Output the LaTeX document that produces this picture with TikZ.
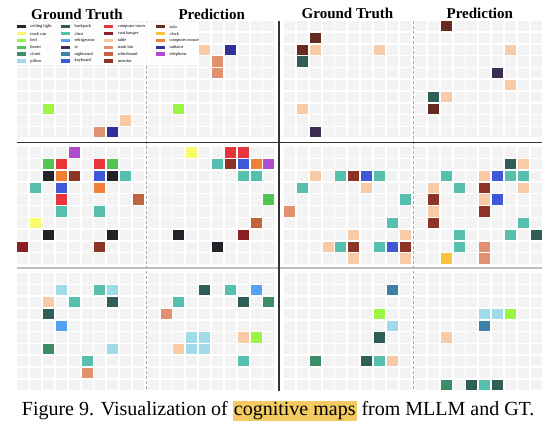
\documentclass[tikz,border=0pt]{standalone}
\usepackage{fontspec}
\setmainfont{Liberation Serif}
\usetikzlibrary{positioning}

\definecolor{cellbg}{HTML}{F3F3F3}
\definecolor{ceilinglight}{HTML}{222228}
\definecolor{trashcan}{HTML}{FAFA6E}
\definecolor{bed}{HTML}{9CF542}
\definecolor{heater}{HTML}{52C452}
\definecolor{closet}{HTML}{3D8C68}
\definecolor{pillow}{HTML}{9FDBE8}
\definecolor{backpack}{HTML}{2E5E56}
\definecolor{chair}{HTML}{56BFAE}
\definecolor{fridge}{HTML}{55A2F2}
\definecolor{tv}{HTML}{3B2D52}
\definecolor{nightstand}{HTML}{3F80A8}
\definecolor{keyboard}{HTML}{3F58D8}
\definecolor{comptower}{HTML}{E8343A}
\definecolor{coathanger}{HTML}{8C1F25}
\definecolor{tablec}{HTML}{F8CBA6}
\definecolor{trashbin}{HTML}{E09270}
\definecolor{whiteboard}{HTML}{C0643E}
\definecolor{monitor}{HTML}{8C3526}
\definecolor{sofa}{HTML}{652A20}
\definecolor{clock}{HTML}{F8C23C}
\definecolor{mouse}{HTML}{EE8038}
\definecolor{radiator}{HTML}{30309A}
\definecolor{telephone}{HTML}{B04CD0}
\definecolor{hlyellow}{HTML}{F4CB62}

\newcommand{\cogmap}[3]{%
  \foreach \c in {0,...,9}
    \foreach \r in {0,...,9}
      \fill[bgcell] ({#1+12.85*\c},{#2+11.8*\r}) rectangle ++(11,10.3);
  \foreach \c/\r/\k in {#3}
    \fill[fill=\k] ({#1+12.85*\c},{#2+11.8*\r}) rectangle ++(11,10.3);
}

\begin{document}
\begin{tikzpicture}[
      x=1pt,y=-1pt,
      bgcell/.style={fill=cellbg},
      title/.style={font=\fontsize{15}{18}\selectfont\bfseries, anchor=base, inner sep=0},
      swatch/.style={inner sep=0, minimum width=9.3pt, minimum height=3.4pt},
      lbl/.style={font=\fontsize{4.4}{5}\selectfont, inner sep=0, anchor=west},
      solidsep/.style={draw=black!80, line width=1.1pt},
      graysep/.style={draw=black!25, line width=1.8pt},
      halfsep/.style={draw=black!35, line width=0.8pt, dash pattern=on 3pt off 2pt}
      ]

      \fill[white] (0,0) rectangle (551,430);

      \cogmap{17.3}{21}{2/7/bed, 8/8/tablec, 6/9/trashbin, 7/9/radiator}
      \cogmap{147.7}{21}{4/2/tablec, 6/2/radiator, 5/3/trashbin, 5/4/trashbin, 2/7/bed}
      \cogmap{284}{21}{2/1/sofa, 1/2/sofa, 2/2/tablec, 7/2/tablec, 1/3/backpack, 1/7/tablec, 2/9/tv}
      \cogmap{415}{21}{2/0/sofa, 7/2/tablec, 6/4/tv, 7/5/tablec, 1/6/backpack, 2/6/tablec, 1/7/sofa}

      \cogmap{17.3}{147.3}{4/0/telephone, 2/1/heater, 3/1/comptower, 6/1/comptower, 7/1/heater,
        2/2/ceilinglight, 3/2/mouse, 4/2/monitor, 6/2/keyboard, 7/2/ceilinglight, 8/2/chair,
        1/3/chair, 3/3/keyboard, 6/3/mouse, 3/4/comptower, 9/4/whiteboard, 3/5/chair, 6/5/chair,
        1/6/trashcan, 2/7/ceilinglight, 7/7/ceilinglight, 0/8/coathanger, 6/8/monitor}
      \cogmap{147.7}{147.3}{3/0/trashcan, 6/0/comptower, 7/0/comptower, 5/1/chair, 6/1/monitor,
        7/1/keyboard, 8/1/mouse, 9/1/telephone, 7/2/chair, 8/2/chair, 9/4/heater, 8/6/whiteboard,
        2/7/ceilinglight, 7/7/coathanger, 5/8/ceilinglight}
      \cogmap{284}{147.3}{2/2/tablec, 4/2/chair, 5/2/monitor, 6/2/keyboard, 7/2/chair, 1/3/chair,
        6/3/tablec, 9/4/chair, 0/5/trashbin, 8/6/chair, 5/7/tablec, 9/7/tablec, 3/8/tablec,
        4/8/chair, 5/8/monitor, 7/8/chair, 8/8/keyboard, 9/8/monitor, 5/9/tablec, 9/9/tablec}
      \cogmap{415}{147.3}{7/1/backpack, 8/1/tablec, 2/2/chair, 5/2/tablec, 6/2/keyboard, 7/2/chair,
        8/2/chair, 1/3/tablec, 3/3/chair, 5/3/monitor, 8/3/tablec, 1/4/monitor, 5/4/tablec,
        6/4/keyboard, 1/5/tablec, 5/5/monitor, 1/6/monitor, 8/6/chair, 3/7/chair, 7/7/chair,
        9/7/backpack, 3/8/chair, 5/8/trashbin, 2/9/clock, 5/9/trashbin}

      \cogmap{17.3}{273.3}{3/1/pillow, 6/1/chair, 7/1/pillow, 2/2/tablec, 4/2/chair, 7/2/backpack,
        2/3/backpack, 3/4/fridge, 2/6/closet, 7/6/pillow, 5/7/chair, 5/8/trashbin}
      \cogmap{147.7}{273.3}{4/1/backpack, 6/1/chair, 8/1/fridge, 2/2/chair, 7/2/backpack, 9/2/closet,
        1/3/trashbin, 3/5/pillow, 4/5/pillow, 7/5/tablec, 8/5/bed, 2/6/tablec, 3/6/pillow,
        4/6/pillow, 7/7/chair}
      \cogmap{284}{273.3}{8/1/nightstand, 7/3/bed, 8/4/pillow, 7/5/backpack, 2/7/closet,
        6/7/backpack, 7/7/chair, 8/7/tablec}
      \cogmap{415}{273.3}{5/3/pillow, 6/3/pillow, 7/3/bed, 5/4/nightstand, 2/5/tablec, 2/9/closet,
        4/9/backpack, 5/9/chair, 6/9/backpack}

      \draw[halfsep] (146,21) -- (146,391);
      \draw[halfsep] (413.3,21) -- (413.3,391);
      \draw[solidsep] (17.3,142.5) -- (542,142.5);
      \draw[graysep] (17.3,267.7) -- (542,267.7);
      \draw[solidsep] (279,21) -- (279,391);

      \fill[white, opacity=0.85] (15,22) rectangle (199,65.5);
      \foreach \k/\t [count=\i from 0] in {ceilinglight/ceiling light, trashcan/trash can, bed/bed,
          heater/heater, closet/closet, pillow/pillow}
        {\node[swatch, fill=\k] (swA\i) at (21.35,{26.7+6.85*\i}) {};
         \node[lbl, right=4pt of swA\i] (lbA\i) {\t};}
      \foreach \k/\t [count=\i from 0] in {backpack/backpack, chair/chair, fridge/refrigerator,
          tv/tv, nightstand/nightstand, keyboard/keyboard}
        {\node[swatch, fill=\k] (swB\i) at (65.5,{26.7+6.85*\i}) {};
         \node[lbl, right=4pt of swB\i] (lbB\i) {\t};}
      \foreach \k/\t [count=\i from 0] in {comptower/computer tower, coathanger/coat hanger,
          tablec/table, trashbin/trash bin, whiteboard/whiteboard, monitor/monitor}
        {\node[swatch, fill=\k] (swC\i) at (108.8,{26.7+6.85*\i}) {};
         \node[lbl, right=4pt of swC\i] (lbC\i) {\t};}
      \foreach \k/\t [count=\i from 0] in {sofa/sofa, clock/clock, mouse/computer mouse,
          radiator/radiator, telephone/telephone}
        {\node[swatch, fill=\k] (swD\i) at (160.5,{26.7+6.85*\i}) {};
         \node[lbl, right=4pt of swD\i] (lbD\i) {\t};}

      \node[title] (gtL)   at (77,19.3)    {Ground Truth};
      \node[title] (predL) at (211.7,19.3) {Prediction};
      \node[title] (gtR)   at (347.5,18.6) {Ground Truth};
      \node[title] (predR) at (479.8,18.6) {Prediction};

      \node[anchor=base west, inner sep=0, font=\fontsize{20}{24}\selectfont] (caption) at (21.7,415.7)
        {Figure 9. Visualization of {\setlength{\fboxsep}{1pt}\colorbox{hlyellow}{cognitive maps}} from MLLM and GT.};
    \end{tikzpicture}
\end{document}
